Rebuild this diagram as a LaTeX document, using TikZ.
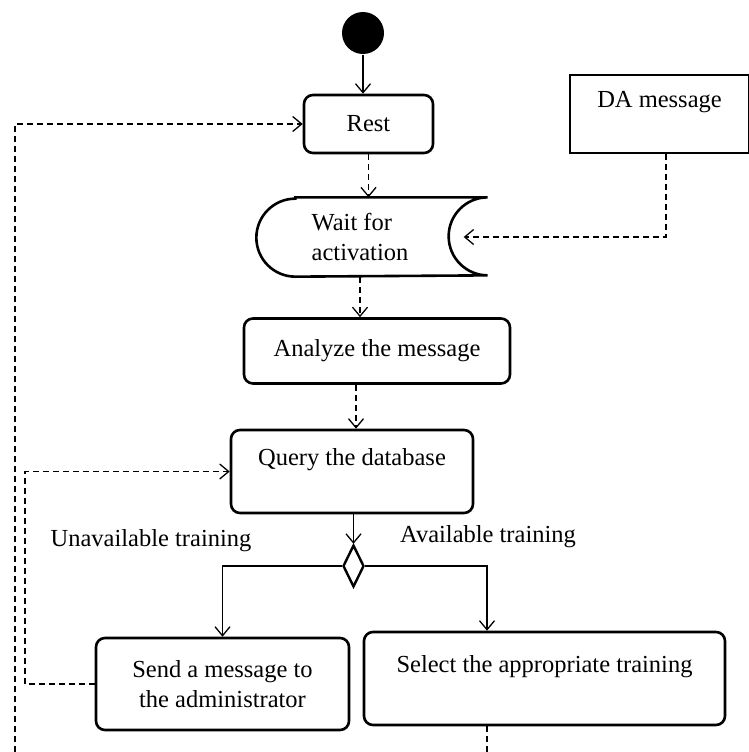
\documentclass[tikz,border=0pt]{standalone}
\usepackage{fontspec}
\setmainfont{Liberation Serif}
\usetikzlibrary{arrows.meta}
\usetikzlibrary{shapes.geometric}
\usetikzlibrary{positioning}

\begin{document}
\begin{tikzpicture}[x=1pt,y=-1pt,>={Straight Barb[length=9pt,width=15pt]},
			line width=1.3pt,font=\fontsize{24.5}{30}\selectfont,
			activity/.style={draw,rounded corners=9pt,line width=2.6pt,inner sep=0pt,align=center},
			dashline/.style={dash pattern=on 6pt off 4pt},
			flow/.style={dashline,->},
			choice/.style={draw,diamond,line width=2.4pt,inner sep=0pt,minimum width=21pt,minimum height=42pt}]
			\useasboundingbox (0,0) rectangle (749,752);

			\node[circle,fill=black,inner sep=0pt,minimum size=42pt] (start) at (363,33) {};
			\node[activity,minimum width=129pt,minimum height=58pt] (rest) at (368.5,124) {Rest};
			\node[draw,line width=2.6pt,inner sep=0pt,align=center,minimum width=179pt,minimum height=78pt] (da) at (659.5,114) {DA message\\~};
			\node[align=left,inner sep=0pt,minimum width=206pt,minimum height=78pt] (wait) at (360,237) {Wait for\\activation};
			\node[activity,minimum width=266pt,minimum height=65pt] (analyze) at (377,351) {Analyze the message};
			\node[activity,minimum width=242pt,minimum height=83pt] (query) at (352,471.5) {Query the database\\~};
			\node[choice] (decide) at (353.5,566) {};
			\node[activity,minimum width=253pt,minimum height=92pt] (send) at (222.5,684) {Send a message to\\the administrator};
			\node[activity,minimum width=361pt,minimum height=93pt] (select) at (544.5,678.5) {Select the appropriate training\\~};
			\node (unavail) at (151,541) {Unavailable training};
			\node (avail) at (488,537) {Available training};

			\coordinate (sendloop) at (25,684);
			\coordinate (outerloop) at (15,752);
			\coordinate (selectout) at (487,752);

			\draw[line width=2.6pt] ([xshift=39pt]wait.north west) -- ([xshift=24pt]wait.north east)
				arc[start angle=270,end angle=90,radius=39] -- ([xshift=39pt]wait.south west)
				arc[start angle=90,end angle=270,radius=39] -- cycle;

			\draw[->] (start) -- (start |- rest.north);
			\draw[flow] (rest.south) -- (rest.south |- wait.north);
			\draw[flow] ([xshift=6.5pt]da.south) |- (wait.east);
			\draw[flow] (wait.south) -- (wait.south |- analyze.north);
			\draw[flow] ([xshift=4pt]query.north |- analyze.south) -- ([xshift=4pt]query.north);
			\draw[->] (query.south -| decide) -- (decide.north);
			\draw[->] (decide.west) -| (send.north);
			\draw[->] (decide.east) -| (selectout |- select.north);
			\draw[flow] (send.west) -- (sendloop) |- (query.west);
			\draw[flow] (outerloop) |- (rest.west);
			\draw[dashline] (selectout |- select.south) -- (selectout);
\end{tikzpicture}
\end{document}
